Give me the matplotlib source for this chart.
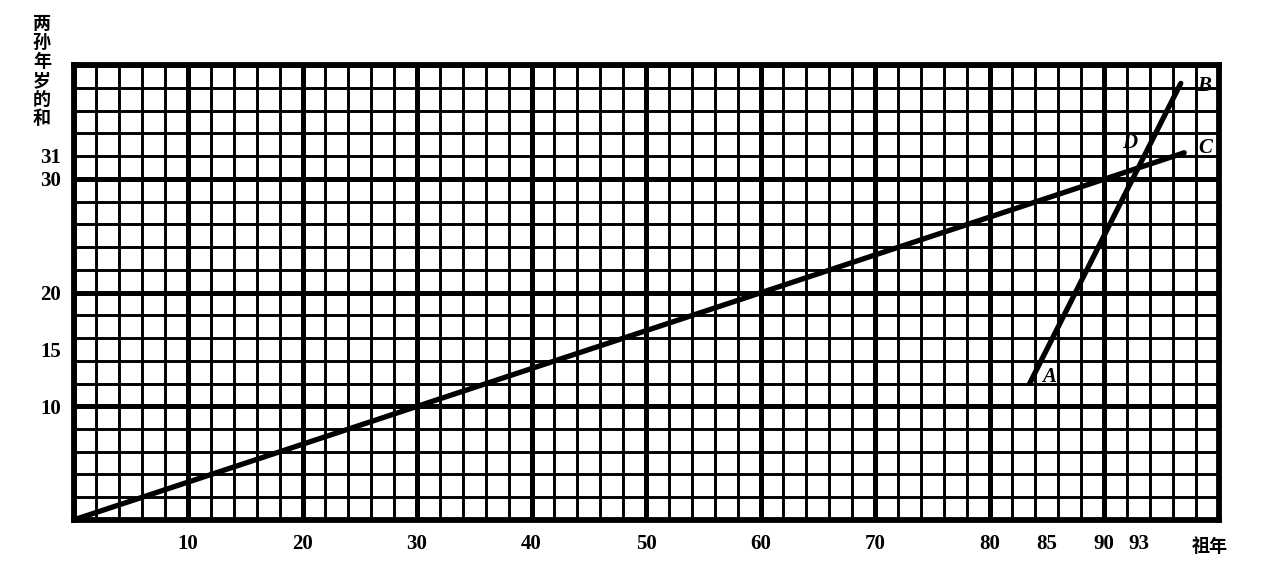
import matplotlib.pyplot as plt
import numpy as np

# Tick labels
x_ticks = [10, 20, 30, 40, 50, 60, 70, 80, 85, 90, 93]
y_ticks = [10, 15, 20, 30, 31]

# Line C: y = x / 3 (grandfather age vs. sum of grandsons' ages)
line_c_x = [0, 97]
line_c_y = [0, 32.3]

# Line AB: crosses C at D (93, 31)
line_ab_x = [83.5, 96.7]
line_ab_y = [12, 38.4]

# Point labels
pt_names = ["A", "B", "C", "D"]
pt_x = [85.2, 98.7, 98.8, 92.2]
pt_y = [12.6, 38.2, 32.7, 33.2]


def main():
    plt.rcParams['font.family'] = ['Liberation Serif', 'Noto Sans CJK SC']

    fig = plt.figure(figsize=(12.68, 5.72), dpi=100)
    ax = fig.add_axes([0.058, 0.091, 0.903, 0.795])
    ax.set_xlim(0, 100)
    ax.set_ylim(0, 40)

    # Grid paper: thin every 2, thick every 10
    for v in range(0, 101, 2):
        ax.axvline(v, color="black", lw=3.6 if v % 10 == 0 else 2.1, zorder=1)
    for v in range(0, 41, 2):
        ax.axhline(v, color="black", lw=3.6 if v % 10 == 0 else 2.1, zorder=1)

    for s in ax.spines.values():
        s.set_linewidth(4.2)
        s.set_color("black")

    # The two lines
    ax.plot(line_c_x, line_c_y, color="black", lw=3.8, solid_capstyle="round", zorder=3)
    ax.plot(line_ab_x, line_ab_y, color="black", lw=3.8, solid_capstyle="round", zorder=3)

    for n, px, py in zip(pt_names, pt_x, pt_y):
        ax.text(px, py, n, fontsize=15, fontweight="bold", fontstyle="italic",
                ha="center", va="center", zorder=4)

    # Ticks
    ax.set_xticks(x_ticks)
    ax.set_xticklabels([str(t) for t in x_ticks], fontsize=15, fontweight="bold")
    ax.set_yticks(y_ticks)
    ax.set_yticklabels([str(t) for t in y_ticks], fontsize=15, fontweight="bold")
    ax.tick_params(axis="x", length=0, pad=10)
    ax.tick_params(axis="y", length=0, pad=9)
    for lbl in ax.get_yticklabels():
        if lbl.get_text() == "31":
            lbl.set_va("bottom")

    # Axis titles
    ax.text(99.2, -2.3, "祖年", fontsize=13, fontweight="bold", ha="center", va="center",
            family=['Noto Sans CJK SC', 'DejaVu Sans'])
    fig.text(0.033, 0.975, "\n".join("两孙年岁的和"), fontsize=13, fontweight="bold",
             ha="center", va="top", linespacing=1.0,
             family=['Noto Sans CJK SC', 'DejaVu Sans'])

    fig.savefig("out.png", dpi=100)


if __name__ == "__main__":
    main()
